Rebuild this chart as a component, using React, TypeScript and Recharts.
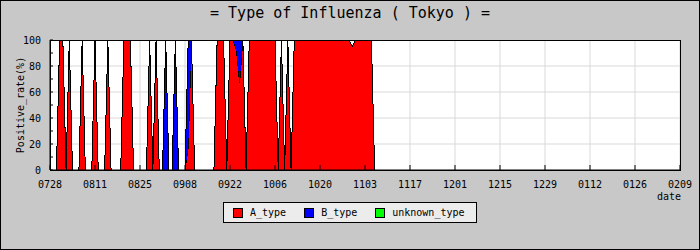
import React from "react";
import {
  AreaChart,
  Area,
  XAxis,
  YAxis,
  CartesianGrid,
  ReferenceArea,
} from "recharts";

// one entry per day, starting 0728
const tickLabels = [
  "0728", "0811", "0825", "0908", "0922", "1006", "1020", "1103",
  "1117", "1201", "1215", "1229", "0112", "0126", "0209",
];

const aType = [
  0, 0, 0, 100, 100, 0, 100, 0, 0, 0,
  100, 0, 0, 0, 100, 0, 0, 0, 100, 0,
  0, 0, 0, 100, 100, 100, 0, 0, 0, 0,
  0, 100, 0, 100, 0, 0, 0, 0, 0, 0,
  0, 0, 0, 17, 100, 0, 0, 0, 0, 0,
  0, 0, 100, 100, 100, 0, 100, 100, 92, 67,
  100, 0, 100, 100, 100, 100, 100, 100, 100, 100,
  100, 0, 100, 0, 100, 0, 100, 100, 100, 100,
  100, 100, 100, 100, 100, 100, 100, 100, 100, 100,
  100, 100, 100, 100, 95, 100, 100, 100, 100, 100,
  100, 0,
];

const bType = [
  0, 0, 0, 0, 0, 0, 0, 0, 0, 0,
  0, 0, 0, 0, 0, 0, 0, 0, 0, 0,
  0, 0, 0, 0, 0, 0, 0, 0, 0, 0,
  0, 0, 0, 0, 0, 0, 100, 0, 0, 100,
  0, 0, 0, 83, 0, 0, 0, 0, 0, 0,
  0, 0, 0, 0, 0, 0, 0, 0, 8, 33,
  0, 0, 0, 0, 0, 0, 0, 0, 0, 0,
  0, 0, 0, 0, 0, 0, 0, 0, 0, 0,
  0, 0, 0, 0, 0, 0, 0, 0, 0, 0,
  0, 0, 0, 0, 0, 0, 0, 0, 0, 0,
  0, 0,
];

const unknownType = [
  0, 0, 0, 0, 0, 0, 0, 0, 0, 0,
  0, 0, 0, 0, 0, 0, 0, 0, 0, 0,
  0, 0, 0, 0, 0, 0, 0, 0, 0, 0,
  0, 0, 0, 0, 0, 0, 0, 0, 0, 0,
  0, 0, 0, 0, 0, 0, 0, 0, 0, 0,
  0, 0, 0, 0, 0, 0, 0, 0, 0, 0,
  0, 0, 0, 0, 0, 0, 0, 0, 0, 0,
  0, 0, 0, 0, 0, 0, 0, 0, 0, 0,
  0, 0, 0, 0, 0, 0, 0, 0, 0, 0,
  0, 0, 0, 0, 0, 0, 0, 0, 0, 0,
  0, 0,
];

const yTicks = [0, 10, 20, 30, 40, 50, 60, 70, 80, 90, 100];
const gridValues = [20, 40, 60, 80];
const xTicks = tickLabels.map((_, i) => i * 14);

const series = [
  { key: "A_type", color: "#ff0000" },
  { key: "B_type", color: "#0000ff" },
  { key: "unknown_type", color: "#00ff00" },
];

const data = aType.map((a, i) => ({
  day: i,
  A_type: a,
  B_type: bType[i],
  unknown_type: unknownType[i],
}));

const FONT = "'DejaVu Sans Mono', 'Liberation Mono', monospace";
const tickStyle = { fill: "#000", fontSize: 10, fontFamily: FONT };

export default function App() {
  return (
    <div
      className="flu"
      style={{
        position: "fixed",
        top: 0,
        left: 0,
        width: 700,
        height: 250,
        background: "#c8c8c8",
        fontFamily: FONT,
        color: "#000",
      }}
    >
      <style>{`.flu svg path { shape-rendering: crispEdges; }`}</style>
      <div
        style={{
          position: "absolute",
          top: 5,
          left: 0,
          width: 700,
          textAlign: "center",
          fontSize: 15,
          lineHeight: "17px",
        }}
      >
        = Type of Influenza ( Tokyo ) =
      </div>
      <div
        style={{
          position: "absolute",
          left: 20,
          top: 105,
          fontSize: 10,
          whiteSpace: "nowrap",
          transform: "translate(-50%, -50%) rotate(-90deg)",
        }}
      >
        Positive_rate(%)
      </div>
      <AreaChart
        width={700}
        height={250}
        data={data}
        margin={{ top: 40, right: 20, bottom: 50, left: 0 }}
        style={{ position: "absolute", top: 0, left: 0 }}
      >
        <CartesianGrid
          stroke="#d9d9d9"
          fill="#fff"
          fillOpacity={1}
          horizontalValues={gridValues}
        />
        <XAxis
          dataKey="day"
          type="number"
          domain={[0, 196]}
          ticks={xTicks}
          tickFormatter={(v: number) => tickLabels[Math.round(v / 14)]}
          height={30}
          tickSize={-5}
          tickMargin={16}
          tick={tickStyle}
          axisLine={{ stroke: "#000" }}
          tickLine={{ stroke: "#000" }}
          interval={0}
        />
        <YAxis
          type="number"
          domain={[0, 100]}
          ticks={yTicks}
          tickFormatter={(v: number) => (v % 20 === 0 ? String(v) : "")}
          width={50}
          tickSize={-3}
          tickMargin={12}
          tick={tickStyle}
          axisLine={{ stroke: "#000" }}
          tickLine={{ stroke: "#000" }}
          interval={0}
        />
        {series.map((s) => (
          <Area
            key={s.key}
            dataKey={s.key}
            stackId="flu"
            type="linear"
            stroke="#000"
            strokeWidth={1}
            fill={s.color}
            fillOpacity={1}
            dot={false}
            activeDot={false}
            isAnimationActive={false}
          />
        ))}
        <ReferenceArea
          x1={0}
          x2={196}
          y1={0}
          y2={100}
          fill="none"
          stroke="#000"
          strokeWidth={1}
        />
      </AreaChart>
      <div
        style={{
          position: "absolute",
          left: 657,
          top: 191,
          fontSize: 10,
        }}
      >
        date
      </div>
      <div
        style={{
          position: "absolute",
          left: 223,
          top: 202,
          width: 254,
          height: 21,
          boxSizing: "border-box",
          border: "1px solid #000",
          background: "#ececec",
          display: "flex",
          alignItems: "center",
          paddingLeft: 9,
          fontSize: 10,
        }}
      >
        {series.map((s) => (
          <div
            key={s.key}
            style={{ display: "flex", alignItems: "center", marginRight: 18 }}
          >
            <span
              style={{
                display: "inline-block",
                width: 10,
                height: 10,
                boxSizing: "border-box",
                border: "1px solid #000",
                background: s.color,
                marginRight: 7,
              }}
            />
            <span>{s.key}</span>
          </div>
        ))}
      </div>
      <div
        style={{
          position: "absolute",
          inset: 0,
          border: "1px solid #000",
          pointerEvents: "none",
        }}
      />
    </div>
  );
}
